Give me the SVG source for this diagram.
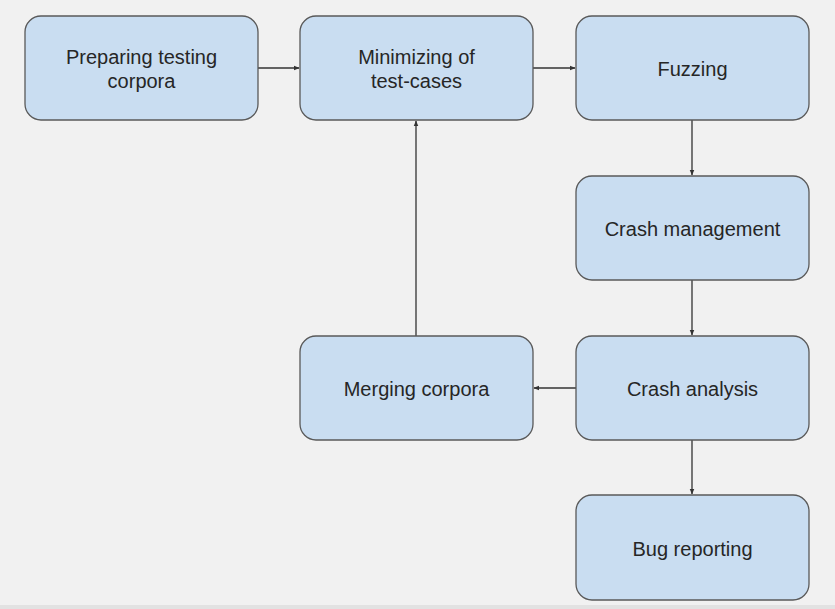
<svg xmlns="http://www.w3.org/2000/svg" width="835" height="609" viewBox="0 0 835 609">
<defs>
<style>
.box{fill:#c9ddf1;stroke:#595959;stroke-width:1.3}
.lbl{font-family:"Liberation Sans",Arial,sans-serif;font-size:20px;fill:#262626;text-anchor:middle}
.edge{stroke:#333;stroke-width:1.3;fill:none;marker-end:url(#ah)}
</style>
<marker id="ah" viewBox="0 0 10 10" refX="9" refY="5" markerWidth="6" markerHeight="6" markerUnits="userSpaceOnUse" orient="auto">
<path d="M0,1 L10,5 L0,9 z" fill="#333"/>
</marker>
</defs>
<rect x="0" y="0" width="835" height="609" fill="#f1f1f1"/>
<rect x="0" y="605" width="835" height="4" fill="#e2e2e2"/>
<g id="connectors">
<path class="edge" d="M258,68 H299"/>
<path class="edge" d="M533,68 H575"/>
<path class="edge" d="M692,120 V175"/>
<path class="edge" d="M692,280 V335"/>
<path class="edge" d="M692,440 V494"/>
<path class="edge" d="M576,388 H534"/>
<path class="edge" d="M416,336 V121"/>
</g>
<g id="n-preparing"><rect class="box" x="25" y="16" width="233" height="104" rx="16"/><text class="lbl" x="141.5" y="64">Preparing testing</text><text class="lbl" x="141.5" y="88">corpora</text></g>
<g id="n-minimizing"><rect class="box" x="300" y="16" width="233" height="104" rx="16"/><text class="lbl" x="416.5" y="64">Minimizing of</text><text class="lbl" x="416.5" y="88">test-cases</text></g>
<g id="n-fuzzing"><rect class="box" x="576" y="16" width="233" height="104" rx="16"/><text class="lbl" x="692.5" y="76">Fuzzing</text></g>
<g id="n-crashmgmt"><rect class="box" x="576" y="176" width="233" height="104" rx="16"/><text class="lbl" x="692.5" y="236">Crash management</text></g>
<g id="n-crashanalysis"><rect class="box" x="576" y="336" width="233" height="104" rx="16"/><text class="lbl" x="692.5" y="396">Crash analysis</text></g>
<g id="n-merging"><rect class="box" x="300" y="336" width="233" height="104" rx="16"/><text class="lbl" x="416.5" y="396">Merging corpora</text></g>
<g id="n-bug"><rect class="box" x="576" y="495" width="233" height="105" rx="16"/><text class="lbl" x="692.5" y="556">Bug reporting</text></g>
</svg>
